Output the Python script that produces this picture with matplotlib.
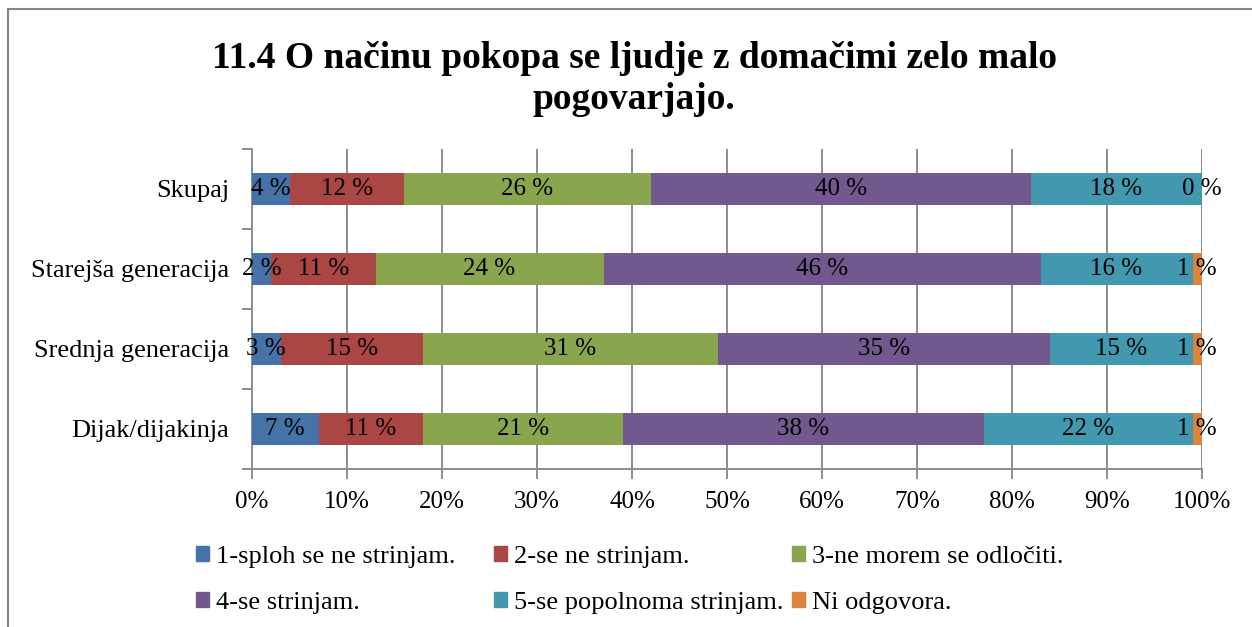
import numpy as np
import matplotlib
matplotlib.use("Agg")
import matplotlib.pyplot as plt
import matplotlib.ticker as ticker
from matplotlib.patches import Rectangle, Patch

plt.rcParams['font.family'] = ['Liberation Serif', 'DejaVu Serif']

title = "11.4 O načinu pokopa se ljudje z domačimi zelo malo\npogovarjajo."
groups = ["Skupaj", "Starejša generacija", "Srednja generacija", "Dijak/dijakinja"]
answers = ["1-sploh se ne strinjam.", "2-se ne strinjam.", "3-ne morem se odločiti.",
           "4-se strinjam.", "5-se popolnoma strinjam.", "Ni odgovora."]
# percent per group, one list per answer
a1 = [4, 2, 3, 7]
a2 = [12, 11, 15, 11]
a3 = [26, 24, 31, 21]
a4 = [40, 46, 35, 38]
a5 = [18, 16, 15, 22]
a6 = [0, 1, 1, 1]
colors = ["#4572A7", "#AA4643", "#89A54E", "#71588F", "#4198AF", "#DB843D"]

W, H, DPI = 1252, 627, 100
FS = 18      # data labels, x ticks
FS_CAT = 19  # category labels, legend
grid_c = "#8c8c8c"

fig = plt.figure(figsize=(W / DPI, H / DPI), dpi=DPI)
ax = fig.add_axes([252 / W, 1 - 469 / H, 950 / W, 320 / H])

y = np.arange(len(groups))
left = np.zeros(len(groups))
for vals, col in zip([a1, a2, a3, a4, a5, a6], colors):
    vals = np.array(vals, dtype=float)
    ax.barh(y, vals, left=left, height=0.4, color=col, zorder=3)
    for yi, l, v in zip(y, left, vals):
        ax.text(l + v / 2, yi, "%d %%" % v, ha="center", va="center",
                fontsize=FS, zorder=4)
    left += vals

ax.set_xlim(0, 100)
ax.set_ylim(3.5, -0.5)
ax.xaxis.set_major_locator(ticker.MultipleLocator(10))
ax.xaxis.set_major_formatter(ticker.FuncFormatter(lambda x, p: "%d%%" % x))
ax.set_yticks(y)
ax.set_yticklabels(groups)
ax.set_yticks(np.arange(-0.5, 4, 1), minor=True)
ax.tick_params(axis="y", which="major", length=0, pad=16.5, labelsize=FS_CAT)
ax.tick_params(axis="y", which="minor", length=7, width=1.4, color=grid_c)
ax.tick_params(axis="x", length=7, width=1.4, color=grid_c, pad=9, labelsize=FS)
ax.grid(axis="x", color=grid_c, lw=1.4, zorder=1)
for s in ["top", "right"]:
    ax.spines[s].set_visible(False)
for s in ["left", "bottom"]:
    ax.spines[s].set_color(grid_c)
    ax.spines[s].set_linewidth(1.4)

fig.text(634 / W, 1 - 79 / H, title, ha="center", va="center",
         fontsize=27, fontweight="bold", linespacing=1.2)

# legend: three equal-width columns like the original
col_x = [196, 494, 792]
for i in range(3):
    handles = [Patch(color=colors[i], label=answers[i]),
               Patch(color=colors[i + 3], label=answers[i + 3])]
    fig.legend(handles=handles, loc="center left",
               bbox_to_anchor=(col_x[i] / W, 1 - 580 / H),
               frameon=False, fontsize=FS_CAT, borderpad=0, borderaxespad=0,
               handlelength=0.49, handleheight=0.49, handletextpad=0.27,
               labelspacing=0.9)

fig.patches.append(Rectangle((8 / W, -0.1), 1.2, 1.1 - 9 / H, transform=fig.transFigure,
                             fill=False, edgecolor="#868686", lw=1.5))

fig.savefig("out.png", dpi=DPI)
